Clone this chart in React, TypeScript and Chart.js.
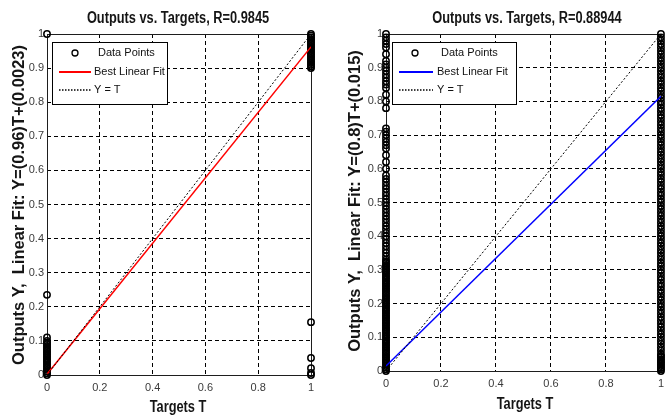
import React, { useEffect, useRef } from "react";
import { Chart, registerables } from "chart.js";

Chart.register(...registerables);

// ---------- data ----------
const xTickValues = [0, 0.2, 0.4, 0.6, 0.8, 1];
const xTickLabels = ["0", "0.2", "0.4", "0.6", "0.8", "1"];
const yTickValues = [0, 0.1, 0.2, 0.3, 0.4, 0.5, 0.6, 0.7, 0.8, 0.9, 1];
const yTickLabels = ["0", "0.1", "0.2", "0.3", "0.4", "0.5", "0.6", "0.7", "0.8", "0.9", "1"];

const fitTargets = [0, 1];
const identityOutputs = [0, 1];

// left panel (R=0.9845)
const leftTitle = "Outputs vs. Targets, R=0.9845";
const leftYLabel = "Outputs Y,  Linear Fit: Y=(0.96)T+(0.0023)";
const leftFitOutputs = [0.0023, 0.9623];
const leftOutputsAtT0 = [
  0, 0.005, 0.01, 0.015, 0.02, 0.025, 0.03, 0.035, 0.04, 0.045, 0.05, 0.055,
  0.06, 0.065, 0.07, 0.075, 0.08, 0.085, 0.09, 0.095, 0.1, 0.11, 0.235, 1,
];
const leftOutputsAtT1 = [
  0, 0.006, 0.02, 0.05, 0.155, 0.9, 0.905, 0.91, 0.915, 0.92, 0.925, 0.93,
  0.935, 0.94, 0.945, 0.95, 0.955, 0.96, 0.965, 0.97, 0.975, 0.98, 0.985,
  0.99, 0.995, 1,
];

// right panel (R=0.88944)
const rightTitle = "Outputs vs. Targets, R=0.88944";
const rightYLabel = "Outputs Y,  Linear Fit: Y=(0.8)T+(0.015)";
const rightFitOutputs = [0.015, 0.815];
const rightOutputsAtT0 = [
  0, 0.005, 0.01, 0.015, 0.02, 0.025, 0.03, 0.035, 0.04, 0.045, 0.05, 0.055,
  0.06, 0.065, 0.07, 0.075, 0.08, 0.085, 0.09, 0.095, 0.1, 0.105, 0.11, 0.115,
  0.12, 0.125, 0.13, 0.135, 0.14, 0.145, 0.15, 0.155, 0.16, 0.165, 0.17, 0.175,
  0.18, 0.185, 0.19, 0.195, 0.2, 0.205, 0.21, 0.215, 0.22, 0.225, 0.23, 0.235,
  0.24, 0.245, 0.25, 0.255, 0.26, 0.265, 0.27, 0.275, 0.28, 0.285, 0.29, 0.295,
  0.3, 0.305, 0.31, 0.315, 0.32, 0.325, 0.33,
  0.34, 0.35, 0.36, 0.37, 0.38, 0.39, 0.4, 0.41, 0.42, 0.43, 0.44, 0.45, 0.46,
  0.47, 0.48, 0.49, 0.5, 0.51, 0.52, 0.53, 0.54, 0.55, 0.56, 0.57, 0.58, 0.6,
  0.62, 0.64, 0.66, 0.67, 0.68, 0.69, 0.7, 0.71, 0.72, 0.78, 0.8, 0.82, 0.84,
  0.85, 0.86, 0.87, 0.88, 0.89, 0.9, 0.91, 0.92, 0.94, 0.96, 0.97, 0.98, 0.99, 1,
];
const rightOutputsAtT1 = [
  0, 0.005, 0.01, 0.015, 0.02, 0.025, 0.03, 0.035, 0.04, 0.045, 0.05, 0.06,
  0.07, 0.08, 0.09, 0.1, 0.11, 0.12, 0.13, 0.14, 0.15, 0.16, 0.17, 0.18, 0.19,
  0.2, 0.21, 0.22, 0.23, 0.24, 0.25, 0.26, 0.27, 0.28, 0.29, 0.3, 0.31, 0.32,
  0.33, 0.34, 0.35, 0.36, 0.37, 0.38, 0.39, 0.4, 0.41, 0.42, 0.43, 0.44, 0.45,
  0.46, 0.47, 0.48, 0.49, 0.5, 0.51, 0.52, 0.53, 0.54, 0.55, 0.56, 0.57, 0.58,
  0.59, 0.6, 0.61, 0.62, 0.63, 0.64, 0.65, 0.66, 0.67, 0.68, 0.69, 0.7, 0.71,
  0.72, 0.73, 0.74, 0.75, 0.76, 0.77, 0.78, 0.79, 0.8, 0.81, 0.82, 0.83, 0.84,
  0.85, 0.86, 0.87, 0.88, 0.89, 0.9, 0.91, 0.92, 0.93, 0.94, 0.95, 0.96, 0.97,
  0.98, 0.99, 1,
];

const legendLabels = ["Data Points", "Best Linear Fit", "Y = T"];
const xAxisLabel = "Targets T";

// ---------- styling / layout ----------
const TICK_FONT = "'Liberation Sans', Arial, sans-serif";

type PanelCfg = {
  title: string;
  yLabel: string;
  fit: number[];
  atT0: number[];
  atT1: number[];
  fitColor: string;
  canvasLeft: number;
  yAxisWidth: number;
  xAxisHeight: number;
  padRight: number;
  text: { titleX: number; titleBase: number; xTitleX: number; xTitleBase: number; yTitleBase: number; yTitleCenter: number };
  legend: { x: number; y: number; w: number; h: number; marker: number; l1: number; l2: number; tx1: number; tx2: number };
};

const panels: PanelCfg[] = [
  {
    title: leftTitle,
    yLabel: leftYLabel,
    fit: leftFitOutputs,
    atT0: leftOutputsAtT0,
    atT1: leftOutputsAtT1,
    fitColor: "#ff0000",
    canvasLeft: 0,
    yAxisWidth: 47,
    xAxisHeight: 41,
    padRight: 24,
    text: { titleX: 178, titleBase: 23, xTitleX: 178, xTitleBase: 412, yTitleBase: 24, yTitleCenter: 205 },
    legend: { x: 52, y: 42, w: 115, h: 62, marker: 75, l1: 59, l2: 91, tx1: 98, tx2: 94 },
  },
  {
    title: rightTitle,
    yLabel: rightYLabel,
    fit: rightFitOutputs,
    atT0: rightOutputsAtT0,
    atT1: rightOutputsAtT1,
    fitColor: "#0000ff",
    canvasLeft: 335,
    yAxisWidth: 51,
    xAxisHeight: 45,
    padRight: 2,
    text: { titleX: 192, titleBase: 23, xTitleX: 190, xTitleBase: 409, yTitleBase: 25, yTitleCenter: 201 },
    legend: { x: 57, y: 42, w: 124, h: 62, marker: 80, l1: 64, l2: 98, tx1: 106, tx2: 102 },
  },
];

const decoPlugin = {
  id: "deco",
  beforeDatasetsDraw(chart: any) {
    const { ctx, chartArea: a } = chart;
    ctx.save();
    ctx.setLineDash([]);
    ctx.strokeStyle = "#1e1e1e";
    ctx.lineWidth = 1;
    ctx.strokeRect(Math.round(a.left) + 0.5, Math.round(a.top) + 0.5, Math.round(a.right - a.left), Math.round(a.bottom - a.top));
    ctx.restore();
  },
  afterDatasetsDraw(chart: any, _args: any, opts: any) {
    const { ctx } = chart;
    const lg = opts.legend;
    const t = opts.text;
    ctx.save();
    // legend box
    ctx.fillStyle = "#ffffff";
    ctx.fillRect(lg.x, lg.y, lg.w, lg.h);
    ctx.strokeStyle = "#000";
    ctx.lineWidth = 1;
    ctx.setLineDash([]);
    ctx.strokeRect(lg.x + 0.5, lg.y + 0.5, lg.w, lg.h);
    const rows = [lg.y + 11, lg.y + 30, lg.y + 48];
    ctx.lineWidth = 1.3;
    ctx.beginPath();
    ctx.arc(lg.marker, rows[0], 3, 0, Math.PI * 2);
    ctx.stroke();
    ctx.strokeStyle = opts.fitColor;
    ctx.lineWidth = 2;
    ctx.beginPath();
    ctx.moveTo(lg.l1, rows[1]);
    ctx.lineTo(lg.l2, rows[1]);
    ctx.stroke();
    ctx.strokeStyle = "#000";
    ctx.lineWidth = 1.5;
    ctx.setLineDash([1.5, 1.5]);
    ctx.beginPath();
    ctx.moveTo(lg.l1, rows[2]);
    ctx.lineTo(lg.l2, rows[2]);
    ctx.stroke();
    ctx.setLineDash([]);
    ctx.fillStyle = "#111";
    ctx.font = `11px ${TICK_FONT}`;
    ctx.textBaseline = "middle";
    ctx.textAlign = "left";
    ctx.fillText(legendLabels[0], lg.tx1, rows[0]);
    ctx.fillText(legendLabels[1], lg.tx2, rows[1]);
    ctx.fillText(legendLabels[2], lg.tx2, rows[2]);
    ctx.restore();

    // titles
    ctx.save();
    ctx.fillStyle = "#151515";
    ctx.textAlign = "center";
    ctx.textBaseline = "alphabetic";
    ctx.font = `bold 16px ${TICK_FONT}`;
    ctx.save();
    ctx.translate(t.titleX, t.titleBase);
    ctx.scale(0.8, 1);
    ctx.fillText(opts.title, 0, 0);
    ctx.restore();
    ctx.save();
    ctx.translate(t.xTitleX, t.xTitleBase);
    ctx.scale(0.8, 1);
    ctx.fillText(xAxisLabel, 0, 0);
    ctx.restore();
    ctx.font = `bold 16.5px ${TICK_FONT}`;
    ctx.save();
    ctx.translate(t.yTitleBase, t.yTitleCenter);
    ctx.rotate(-Math.PI / 2);
    ctx.fillText(opts.yLabel, 0, 0);
    ctx.restore();
    ctx.restore();
  },
};

function buildConfig(p: PanelCfg): any {
  return {
    type: "scatter",
    data: {
      datasets: [
        {
          label: "Y = T",
          type: "line",
          data: fitTargets.map((x, i) => ({ x, y: identityOutputs[i] })),
          borderColor: "#000",
          borderWidth: 1,
          borderDash: [2, 2],
          pointRadius: 0,
          fill: false,
        },
        {
          label: "Best Linear Fit",
          type: "line",
          data: fitTargets.map((x, i) => ({ x, y: p.fit[i] })),
          borderColor: p.fitColor,
          borderWidth: 1.5,
          pointRadius: 0,
          fill: false,
        },
        {
          type: "scatter",
          label: "Data Points",
          pointStyle: "circle",
          pointRadius: 3.2,
          pointBorderWidth: 1.5,
          pointBorderColor: "#000",
          pointBackgroundColor: "rgba(0,0,0,0)",
          showLine: false,
          clip: false,
          data: [
            ...p.atT0.map((y) => ({ x: fitTargets[0], y })),
            ...p.atT1.map((y) => ({ x: fitTargets[1], y })),
          ],
        },
      ],
    },
    options: {
      responsive: false,
      animation: false,
      devicePixelRatio: 1,
      layout: { padding: { left: 0, right: p.padRight, top: 34, bottom: 0 } },
      plugins: {
        legend: { display: false },
        tooltip: { enabled: false },
        title: { display: false },
        deco: { legend: p.legend, fitColor: p.fitColor, title: p.title, yLabel: p.yLabel, text: p.text },
      },
      scales: {
        x: {
          type: "linear",
          min: 0,
          max: 1,
          afterBuildTicks: (s: any) => {
            s.ticks = xTickValues.map((v) => ({ value: v }));
          },
          afterFit: (s: any) => {
            s.height = p.xAxisHeight;
          },
          ticks: {
            autoSkip: false,
            maxRotation: 0,
            padding: 6,
            color: "#3a3a3a",
            font: { family: TICK_FONT, size: 11 },
            callback: (v: number) => xTickLabels[xTickValues.indexOf(v)] ?? "",
          },
          grid: { color: "#000", lineWidth: 1, drawTicks: false },
          border: { display: false, dash: [4, 3] },
          title: { display: false },
        },
        y: {
          type: "linear",
          min: 0,
          max: 1,
          afterBuildTicks: (s: any) => {
            s.ticks = yTickValues.map((v) => ({ value: v }));
          },
          afterFit: (s: any) => {
            s.width = p.yAxisWidth;
          },
          ticks: {
            autoSkip: false,
            padding: 3,
            color: "#3a3a3a",
            font: { family: TICK_FONT, size: 11 },
            callback: (v: number) => yTickLabels[yTickValues.indexOf(v)] ?? "",
          },
          grid: { color: "#000", lineWidth: 1, drawTicks: false },
          border: { display: false, dash: [4, 3] },
          title: { display: false },
        },
      },
    },
    plugins: [decoPlugin],
  };
}

function Panel({ p }: { p: PanelCfg }) {
  const ref = useRef<HTMLCanvasElement>(null);
  useEffect(() => {
    const chart = new Chart(ref.current as HTMLCanvasElement, buildConfig(p));
    return () => chart.destroy();
  }, [p]);
  return (
    <canvas
      ref={ref}
      width={335}
      height={416}
      style={{ position: "absolute", left: p.canvasLeft, top: 0, width: 335, height: 416, display: "block" }}
    />
  );
}

export default function App() {
  return (
    <div style={{ position: "absolute", left: 0, top: 0, width: 670, height: 416, background: "#fff", overflow: "hidden" }}>
      {panels.map((p, i) => (
        <Panel key={i} p={p} />
      ))}
    </div>
  );
}
